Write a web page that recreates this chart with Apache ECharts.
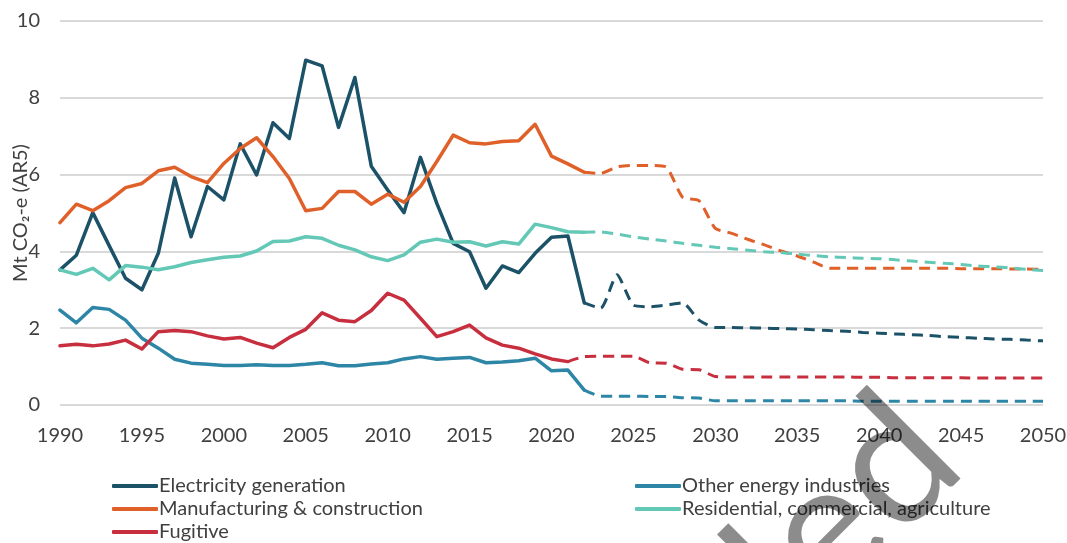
<!DOCTYPE html>
<html>
<head>
<meta charset="utf-8">
<script src="https://cdn.jsdelivr.net/npm/echarts@6/dist/echarts.min.js"></script>
<style>
  html, body { margin: 0; padding: 0; background: #fff; }
  #main { width: 1067px; height: 543px; }
</style>
</head>
<body>
<div id="main"></div>
<script>
// values, Mt CO2-e (AR5)
var histStart = 1990;
var elecHist = [3.52, 3.9, 5.01, 4.15, 3.3, 3.0, 3.95, 5.91, 4.38, 5.69,
  5.34, 6.8, 5.99, 7.35, 6.94, 8.98, 8.83, 7.23, 8.53, 6.22,
  5.6, 5.01, 6.45, 5.25, 4.21, 3.99, 3.04, 3.62, 3.45, 3.95,
  4.37, 4.4, 2.66];
var otherHist = [2.47, 2.14, 2.54, 2.49, 2.21, 1.74, 1.48, 1.19, 1.09, 1.06,
  1.03, 1.03, 1.05, 1.03, 1.03, 1.06, 1.1, 1.02, 1.02, 1.07,
  1.1, 1.2, 1.26, 1.19, 1.22, 1.24, 1.1, 1.12, 1.15, 1.22,
  0.89, 0.91, 0.39];
var manuHist = [4.75, 5.23, 5.06, 5.32, 5.66, 5.77, 6.1, 6.19, 5.95, 5.79,
  6.29, 6.68, 6.96, 6.47, 5.9, 5.06, 5.12, 5.56, 5.56, 5.23,
  5.49, 5.28, 5.69, 6.34, 7.03, 6.83, 6.8, 6.86, 6.88, 7.31,
  6.48, 6.28, 6.06];
var resiHist = [3.52, 3.4, 3.56, 3.26, 3.63, 3.59, 3.52, 3.6, 3.71, 3.78,
  3.85, 3.88, 4.01, 4.26, 4.27, 4.38, 4.34, 4.16, 4.04, 3.86,
  3.76, 3.91, 4.24, 4.32, 4.24, 4.25, 4.14, 4.25, 4.19, 4.71,
  4.62, 4.51, 4.5];
var fugiHist = [1.54, 1.58, 1.54, 1.59, 1.69, 1.46, 1.91, 1.94, 1.91, 1.8,
  1.72, 1.76, 1.61, 1.49, 1.76, 1.97, 2.4, 2.21, 2.17, 2.46,
  2.91, 2.73, 2.26, 1.78, 1.91, 2.08, 1.75, 1.56, 1.48, 1.33,
  1.2, 1.13];

// projections (dashed), starting at the last historical year
var projStart = 2022;
var fugiProjStart = 2021;
var elecProj = [2.66, 2.52, 3.39, 2.6, 2.56, 2.6, 2.66, 2.21, 2.02,
  2.02, 2.01, 2.0, 1.99, 1.98, 1.96, 1.94, 1.92, 1.89, 1.87,
  1.85, 1.83, 1.81, 1.78, 1.76, 1.74, 1.72, 1.71, 1.69, 1.67];
var otherProj = [0.39, 0.23, 0.23, 0.23, 0.22, 0.22, 0.19, 0.18, 0.11,
  0.11, 0.11, 0.11, 0.11, 0.11, 0.11, 0.11, 0.11, 0.1, 0.1,
  0.1, 0.1, 0.1, 0.1, 0.1, 0.1, 0.1, 0.1, 0.1, 0.1];
var manuProj = [6.06, 6.03, 6.2, 6.24, 6.24, 6.2, 5.41, 5.32, 4.6,
  4.47, 4.31, 4.17, 4.01, 3.88, 3.72, 3.56, 3.56, 3.56, 3.56,
  3.56, 3.56, 3.56, 3.56, 3.55, 3.55, 3.55, 3.54, 3.54, 3.53];
var resiProj = [4.5, 4.51, 4.45, 4.38, 4.32, 4.27, 4.21, 4.16, 4.11,
  4.07, 4.03, 3.99, 3.97, 3.93, 3.89, 3.86, 3.84, 3.82, 3.81,
  3.78, 3.75, 3.72, 3.69, 3.66, 3.62, 3.6, 3.57, 3.53, 3.5];
var fugiProj = [1.13, 1.26, 1.27, 1.27, 1.27, 1.1, 1.09, 0.93, 0.92, 0.74,
  0.73, 0.73, 0.73, 0.73, 0.73, 0.73, 0.73, 0.73, 0.72, 0.72,
  0.71, 0.71, 0.71, 0.71, 0.71, 0.7, 0.7, 0.7, 0.7, 0.7];

var names = ['Electricity generation', 'Other energy industries', 'Manufacturing & construction',
  'Residential, commercial, agriculture', 'Fugitive'];
var colors = ['#1c5268', '#2e86a7', '#e0602a', '#63c8b6', '#c72f3f'];

var xTicks = [1990, 1995, 2000, 2005, 2010, 2015, 2020, 2025, 2030, 2035, 2040, 2045, 2050];
var yTicks = [0, 2, 4, 6, 8, 10];

function pairs(start, vals) {
  return vals.map(function (v, i) { return [start + i, v]; });
}

var hist = [
  pairs(histStart, elecHist), pairs(histStart, otherHist), pairs(histStart, manuHist),
  pairs(histStart, resiHist), pairs(histStart, fugiHist)
];
var proj = [
  pairs(projStart, elecProj), pairs(projStart, otherProj), pairs(projStart, manuProj),
  pairs(projStart, resiProj), pairs(fugiProjStart, fugiProj)
];

var font = 'Lato';
var txt = '#404040';

var series = [];
for (var i = 0; i < names.length; i++) {
  series.push({
    name: names[i], type: 'line', data: hist[i], symbol: 'none', z: 3,
    lineStyle: { color: colors[i], width: 3.5, join: 'round', cap: 'round' },
    itemStyle: { color: colors[i] }
  });
}
for (var j = 0; j < names.length; j++) {
  series.push({
    name: names[j], type: 'line', data: proj[j], symbol: 'none', smooth: 0.2, z: 2,
    lineStyle: { color: colors[j], width: 3, type: [11, 7] },
    itemStyle: { color: colors[j] }
  });
}

var legendBase = {
  orient: 'vertical', icon: 'roundRect', itemWidth: 46, itemHeight: 4, itemGap: 3,
  padding: 0, height: 70,
  textStyle: { fontFamily: font, fontSize: 20, color: txt, lineHeight: 20, padding: [0, 0, 0, -4] },
  top: 476
};

var chart = echarts.init(document.getElementById('main'));
chart.setOption({
  animation: false,
  backgroundColor: '#fff',
  grid: { left: 60, right: 24, top: 21, bottom: 138, outerBoundsMode: 'none', containLabel: false },
  xAxis: {
    type: 'value', min: 1990, max: 2050, interval: 5,
    axisLine: { show: false }, axisTick: { show: false }, splitLine: { show: false },
    axisLabel: { fontFamily: font, fontSize: 20, color: txt, margin: 21,
      formatter: function (v) { return xTicks.indexOf(v) >= 0 ? String(v) : ''; } }
  },
  yAxis: {
    type: 'value', min: 0, max: 10, interval: 2,
    name: 'Mt CO\u2082-e (AR5)', nameLocation: 'middle', nameGap: 29, nameMoveOverlap: false,
    nameTextStyle: { fontFamily: font, fontSize: 20, color: txt },
    axisLine: { show: false }, axisTick: { show: false },
    splitLine: { lineStyle: { color: '#d9d9d9', width: 2 } },
    axisLabel: { fontFamily: font, fontSize: 20, color: txt, margin: 20,
      formatter: function (v) { return yTicks.indexOf(v) >= 0 ? String(v) : ''; } }
  },
  legend: [
    Object.assign({}, legendBase, { left: 112, data: [names[0], names[2], names[4]] }),
    Object.assign({}, legendBase, { left: 635, data: [names[1], names[3]] })
  ],
  graphic: [{
    type: 'text', x: 992, y: 492, rotation: Math.PI / 4, z: 100, silent: true,
    style: { text: 'Superseded', fontFamily: font, fontSize: 180, fill: 'rgba(0,0,0,0.45)',
      align: 'right', verticalAlign: 'bottom' }
  }],
  series: series
});
</script>
</body>
</html>
